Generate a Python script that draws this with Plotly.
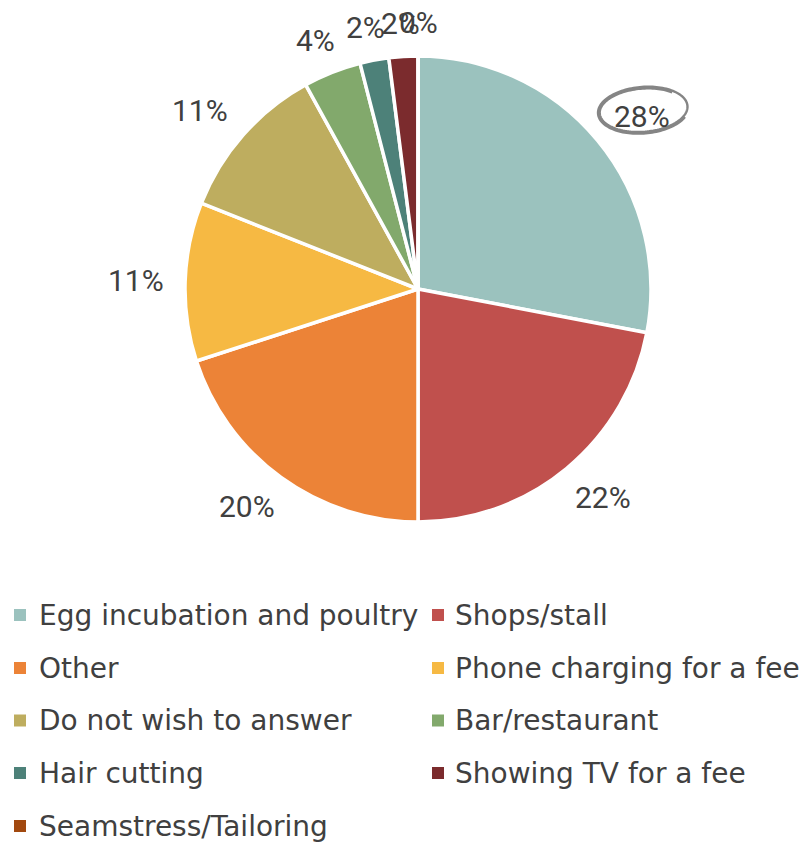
import numpy as np
import plotly.graph_objects as go

# Survey answers: type of business run with the electricity
categories = [
    "Egg incubation and poultry", "Shops/stall", "Other",
    "Phone charging for a fee", "Do not wish to answer", "Bar/restaurant",
    "Hair cutting", "Showing TV for a fee", "Seamstress/Tailoring",
]
shares = [28, 22, 20, 11, 11, 4, 2, 2, 0]
colors = [
    "#9BC2BE", "#C0504D", "#EC8337", "#F6B943", "#BEAD5F",
    "#82A96C", "#4D8179", "#7B2B2D", "#A2490F",
]

W, H = 808, 842
CX, CY, R = 418, 289, 233          # pie centre and radius, px
TEXT = "#404040"

fig = go.Figure(go.Pie(
    labels=categories, values=shares, sort=False, direction="clockwise",
    rotation=0, textinfo="none", hoverinfo="label+percent",
    marker=dict(colors=colors, line=dict(color="white", width=3.5)),
    domain=dict(x=[(CX - R) / W, (CX + R) / W],
                y=[1 - (CY + R) / H, 1 - (CY - R) / H]),
    showlegend=False,
))

# Percentage labels: anchored just outside the rim at each slice's
# mid-angle, with the text box pushed outward so it clears the pie.
total = sum(shares)
cum = 0.0
label_pos = []
for v in shares:
    theta = 2 * np.pi * (cum + v / 2) / total
    cum += v
    txt = f"{round(100 * v / total)}%"
    half_w = 10 * len(txt)
    half_h = 14
    s, c = np.sin(theta), np.cos(theta)
    if abs(s) < 1e-9:
        s = 0.0
    ox = np.sign(s) * half_w * min(1.0, abs(s) * 1.3)
    oy = -np.sign(c) * half_h * min(1.0, abs(c) * 1.3)
    x = CX + 252 * s + ox
    y = CY - 252 * c + oy
    label_pos.append((x, y))
    fig.add_annotation(
        x=x / W, y=1 - y / H, xref="paper", yref="paper", text=txt,
        showarrow=False, xanchor="center", yanchor="middle",
        font=dict(family="Liberation Sans Narrow, Roboto, sans-serif",
                  size=30, color=TEXT),
    )

# Hand-drawn loop around the largest share
lx, ly = label_pos[0]
ex, ey = lx + 1, ly - 7
t = np.linspace(0.15 * np.pi, 2.15 * np.pi + 1.6 * np.pi, 240)
grow = np.linspace(0, 1, t.size)
ax_ = 46 - 3 * grow
ay_ = 24 - 3 * grow
tilt = np.deg2rad(-5)
px = ax_ * np.cos(t)
py = ay_ * np.sin(t)
qx = ex + px * np.cos(tilt) - py * np.sin(tilt)
qy = ey + px * np.sin(tilt) + py * np.cos(tilt)
path = "M " + " L ".join(f"{a / W:.5f},{1 - b / H:.5f}" for a, b in zip(qx, qy))
fig.add_shape(type="path", path=path, xref="paper", yref="paper",
              line=dict(color="#858585", width=2.4))

# Legend in two columns
rows_y = [615, 668, 720.5, 773, 826]
col_sq = [14, 432]
col_tx = [37, 453]
SQ = 12
for i, (name, col) in enumerate(zip(categories, colors)):
    r_i, c_i = divmod(i, 2)
    yc = rows_y[r_i]
    fig.add_shape(type="rect", xref="paper", yref="paper",
                  x0=col_sq[c_i] / W, x1=(col_sq[c_i] + SQ) / W,
                  y0=1 - (yc + SQ / 2) / H, y1=1 - (yc - SQ / 2) / H,
                  fillcolor=col, line=dict(width=0))
    fig.add_annotation(
        x=col_tx[c_i] / W, y=1 - yc / H, xref="paper", yref="paper",
        text=name, showarrow=False, xanchor="left", yanchor="middle",
        font=dict(family="DejaVu Sans, sans-serif", size=28, color=TEXT),
    )

fig.update_layout(
    width=W, height=H, margin=dict(l=0, r=0, t=0, b=0),
    paper_bgcolor="white", plot_bgcolor="white",
)
fig.write_html("out.html")
